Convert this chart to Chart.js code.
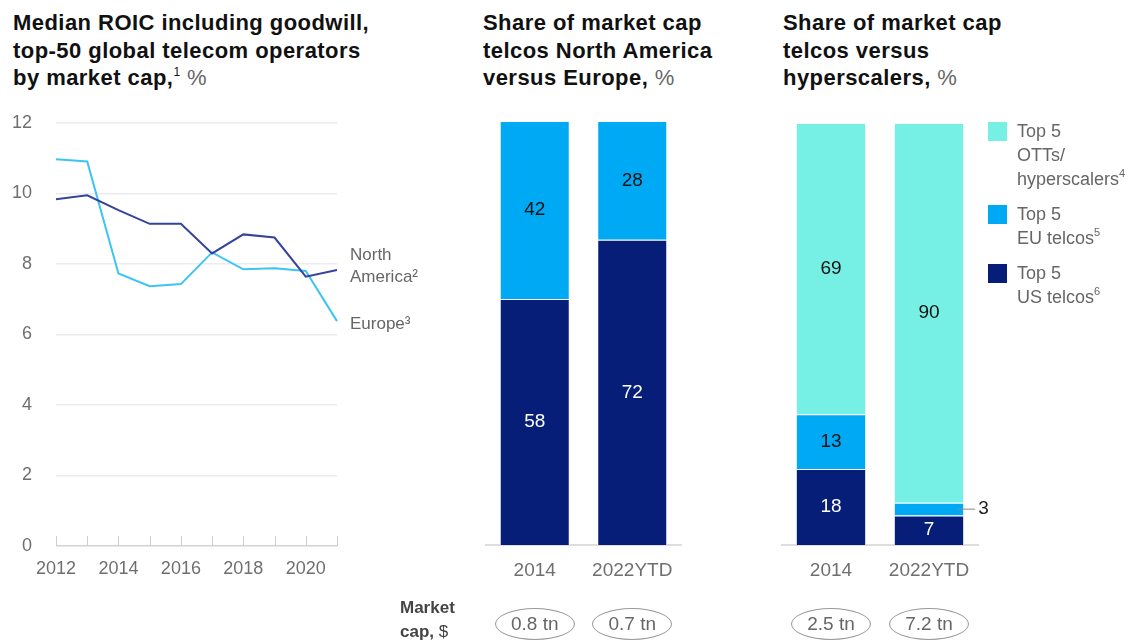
<!DOCTYPE html>
<html>
<head>
<meta charset="utf-8">
<script src="https://cdn.jsdelivr.net/npm/chart.js@4.4.1/dist/chart.umd.min.js"></script>
<style>
  body { margin: 0; width: 1136px; height: 641px; background: #fff; position: relative; overflow: hidden;
         font-family: "Liberation Sans", Arial, sans-serif; }
  .title { position: absolute; top: 9px; font-weight: bold; font-size: 22px; line-height: 27.5px;
           letter-spacing: 0.45px; color: #111; white-space: nowrap; }
  .title .pct { font-weight: normal; color: #666; }
  .title sup { font-size: 12px; line-height: 0; vertical-align: 9px; font-weight: normal; }
  canvas { position: absolute; top: 100px; }
  .legend { position: absolute; left: 988px; top: 119px; font-size: 18px; line-height: 24px; color: #666; }
  .legend .item { position: relative; padding-left: 29px; margin-bottom: 11px; }
  .legend .sw { position: absolute; left: 0; top: 3px; width: 19px; height: 19px; }
  .legend sup { font-size: 11px; line-height: 0; vertical-align: 8px; }
  .mcap { position: absolute; left: 400px; top: 596px; font-size: 17px; line-height: 24px; color: #444; font-weight: bold; }
  .mcap span { font-weight: normal; }
  .pill { position: absolute; top: 608px; width: 78px; height: 30px; margin-left: -40px; border: 1px solid #999;
          border-radius: 50%; text-align: center; line-height: 30px; font-size: 19px; color: #666; }
</style>
</head>
<body>
<div class="title" style="left:13px">Median ROIC including goodwill,<br>top-50 global telecom operators<br>by market cap,<sup>1</sup> <span class="pct">%</span></div>
<div class="title" style="left:483px">Share of market cap<br>telcos North America<br>versus Europe, <span class="pct">%</span></div>
<div class="title" style="left:783px">Share of market cap<br>telcos versus<br>hyperscalers, <span class="pct">%</span></div>

<canvas id="roic" width="420" height="500" style="left:0"></canvas>
<canvas id="naEu" width="280" height="500" style="left:440px"></canvas>
<canvas id="hyper" width="260" height="500" style="left:740px"></canvas>

<div class="legend">
  <div class="item"><div class="sw" style="background:#76F0E4"></div>Top 5<br>OTTs/<br>hyperscalers<sup>4</sup></div>
  <div class="item"><div class="sw" style="background:#00A9F4"></div>Top 5<br>EU telcos<sup>5</sup></div>
  <div class="item"><div class="sw" style="background:#061E78"></div>Top 5<br>US telcos<sup>6</sup></div>
</div>
<div class="mcap">Market<br>cap, <span>$</span></div>

<script>
// --- Data ---
const lineYears = ['2012', '2013', '2014', '2015', '2016', '2017', '2018', '2019', '2020', '2021'];
const northAmerica = [9.84, 9.95, 9.53, 9.14, 9.14, 8.30, 8.84, 8.75, 7.64, 7.83];
const europe = [10.97, 10.91, 7.73, 7.37, 7.43, 8.33, 7.85, 7.88, 7.80, 6.38];

const barYears = ['2014', '2022YTD'];
const naShare = [58, 72];
const euShare = [42, 28];
const usTelcos = [18, 7];
const euTelcos = [13, 3];
const hyperscalers = [69, 90];

const capMid = ['0.8 tn', '0.7 tn'];
const capRight = ['2.5 tn', '7.2 tn'];

const NAVY = '#061E78', BLUE = '#00A9F4', CYAN = '#76F0E4';
const FONT = '"Liberation Sans", Arial, sans-serif';

// --- Line chart helpers ---
const axisTicks = {
    id: 'axisTicks',
    afterDraw(chart) {
        const ctx = chart.ctx, x = chart.scales.x, a = chart.chartArea;
        ctx.save();
        ctx.strokeStyle = '#cfcfcf';
        ctx.lineWidth = 1;
        lineYears.forEach((y, i) => {
            const px = Math.round(x.getPixelForValue(i)) + 0.5;
            ctx.beginPath(); ctx.moveTo(px, a.bottom - 10); ctx.lineTo(px, a.bottom); ctx.stroke();
        });
        ctx.restore();
    }
};

const endLabels = {
    id: 'endLabels',
    afterDatasetsDraw(chart) {
        const ctx = chart.ctx, y = chart.scales.y, a = chart.chartArea;
        const last = lineYears.length - 1;
        const tx = a.right + 13;
        ctx.save();
        ctx.font = '17px ' + FONT;
        ctx.fillStyle = '#666';
        ctx.textBaseline = 'middle';
        const naY = y.getPixelForValue(northAmerica[last]);
        ctx.fillText('North', tx, naY - 15);
        ctx.fillText('America²', tx, naY + 7);
        ctx.fillText('Europe³', tx, y.getPixelForValue(europe[last]) + 3);
        ctx.restore();
    }
};

new Chart(document.getElementById('roic'), {
    type: 'line',
    data: {
        labels: lineYears,
        datasets: [
            { label: 'North America', data: northAmerica, borderColor: '#34449A', borderWidth: 2, pointRadius: 0, tension: 0 },
            { label: 'Europe', data: europe, borderColor: '#3CC4F5', borderWidth: 2, pointRadius: 0, tension: 0 }
        ]
    },
    options: {
        responsive: false,
        animation: false,
        layout: { padding: { top: 23, right: 83, left: 0, bottom: 0 } },
        plugins: { legend: { display: false }, tooltip: { enabled: false } },
        scales: {
            x: {
                offset: false,
                grid: { display: false },
                border: { display: false },
                afterFit: s => { s.height = 54; },
                ticks: {
                    autoSkip: false, maxRotation: 0, padding: 4,
                    color: '#6f6f6f', font: { family: FONT, size: 18 },
                    callback: (v, i) => (i % 2 === 0 ? lineYears[i] : '')
                }
            },
            y: {
                min: 0, max: 12,
                afterFit: s => { s.width = 56; s.paddingTop = 0; s.paddingBottom = 0; },
                border: { display: false },
                grid: {
                    drawTicks: false, lineWidth: 1.5,
                    color: c => (c.tick.value === 0 ? '#d2d2d2' : '#ececec')
                },
                ticks: { stepSize: 2, padding: 24, color: '#6f6f6f', font: { family: FONT, size: 18 } }
            }
        }
    },
    plugins: [axisTicks, endLabels]
});

// --- Stacked bar helpers ---
const barLabels = {
    id: 'barLabels',
    afterDatasetsDraw(chart) {
        const ctx = chart.ctx;
        ctx.save();
        ctx.font = '19px ' + FONT;
        ctx.textBaseline = 'middle';
        chart.data.datasets.forEach((ds, i) => {
            chart.getDatasetMeta(i).data.forEach((bar, j) => {
                const v = ds.data[j];
                const cy = (bar.y + bar.base) / 2;
                if (v < 5) {
                    const right = bar.x + bar.width / 2;
                    ctx.strokeStyle = '#888';
                    ctx.lineWidth = 1;
                    ctx.beginPath(); ctx.moveTo(right - 7, cy); ctx.lineTo(right + 11, cy); ctx.stroke();
                    ctx.fillStyle = '#222';
                    ctx.textAlign = 'left';
                    ctx.fillText(v, right + 14, cy);
                } else {
                    ctx.fillStyle = ds.labelColor;
                    ctx.textAlign = 'center';
                    ctx.fillText(v, bar.x, cy);
                }
            });
        });
        ctx.restore();
    }
};

function barSet(label, data, color, labelColor) {
    return {
        label, data, backgroundColor: color, labelColor,
        borderColor: 'rgba(255,255,255,0.85)', borderWidth: 1, borderSkipped: 'start',
        barPercentage: 1, categoryPercentage: 0.718
    };
}

function barOptions(pad) {
    return {
        responsive: false,
        animation: false,
        layout: { padding: pad },
        plugins: { legend: { display: false }, tooltip: { enabled: false } },
        scales: {
            x: {
                stacked: true,
                grid: { display: false },
                border: { color: '#dedede', width: 2 },
                afterFit: s => { s.height = 55; },
                ticks: { padding: 6, color: '#6f6f6f', font: { family: FONT, size: 19 } }
            },
            y: { stacked: true, min: 0, max: 100, display: false }
        }
    };
}

const naEuChart = new Chart(document.getElementById('naEu'), {
    type: 'bar',
    data: {
        labels: barYears,
        datasets: [
            barSet('North America', naShare, NAVY, '#fff'),
            barSet('Europe', euShare, BLUE, '#111')
        ]
    },
    options: barOptions({ top: 21, left: 46, right: 39, bottom: 0 }),
    plugins: [barLabels]
});

const hyperChart = new Chart(document.getElementById('hyper'), {
    type: 'bar',
    data: {
        labels: barYears,
        datasets: [
            barSet('Top 5 US telcos', usTelcos, NAVY, '#fff'),
            barSet('Top 5 EU telcos', euTelcos, BLUE, '#111'),
            barSet('Top 5 OTTs/hyperscalers', hyperscalers, CYAN, '#111')
        ]
    },
    options: barOptions({ top: 23, left: 42, right: 22, bottom: 0 }),
    plugins: [barLabels]
});

// --- Market cap pills, centred under each bar ---
function addPills(chart, offset, caps) {
    caps.forEach((txt, i) => {
        const el = document.createElement('div');
        el.className = 'pill';
        el.textContent = txt;
        el.style.left = (offset + chart.scales.x.getPixelForValue(i)) + 'px';
        document.body.appendChild(el);
    });
}
addPills(naEuChart, 440, capMid);
addPills(hyperChart, 740, capRight);
</script>
</body>
</html>
